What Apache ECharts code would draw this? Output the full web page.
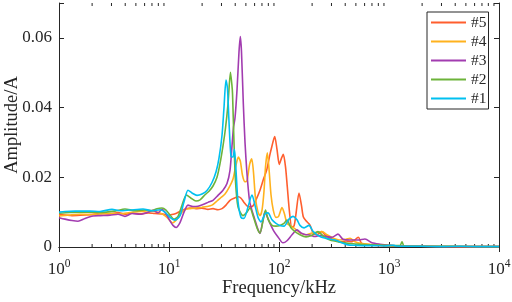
<!DOCTYPE html>
<html>
<head>
<meta charset="utf-8">
<script src="https://cdn.jsdelivr.net/npm/echarts@6/dist/echarts.min.js"></script>
<style>
html,body{margin:0;padding:0;background:#fff;}
#chart{width:512px;height:302px;}
</style>
</head>
<body>
<div id="chart"></div>
<script>
// ---------------- data (frequency in kHz, amplitude in A) ----------------
const SERIES_NAMES = ['#5', '#4', '#3', '#2', '#1'];
const SERIES_COLORS = ['#FF5E2E', '#FFB21E', '#A23CB0', '#6DB33A', '#00C0F0'];

const FREQ_5 = [1,1.134,1.313,1.552,1.913,2.359,2.908,3.438,3.981,4.61,5.449,6.443,7.46,8.637,9.792,10.65,11.7,13.13,14.27,15.52,17.6,19.95,22.62,25.12,27.89,30.32,32.97,35.85,38.98,42.7,45.14,48.06,51.18,54.49,58.03,61.78,67.17,72.3,77.2,82.0,85.9,91.4,95.89,100.6,105.4,109.4,114.6,119.0,124.6,130.5,136.9,142.7,152.0,159.9,166.2,176.0,191.3,205.0,221.5,244.5,261.9,290.8,322.9,358.5,406.5,461.0,526,565,671.7,828.3,1021,1259,1913,4421,10000];
const AMP_5 = [0.0093,0.0092,0.0090,0.0091,0.0093,0.0096,0.0095,0.0099,0.0094,0.0097,0.0095,0.0098,0.0096,0.0095,0.0091,0.0093,0.0097,0.0105,0.0110,0.0112,0.0110,0.0111,0.0108,0.0110,0.0107,0.0110,0.0120,0.0134,0.0140,0.0144,0.0140,0.0128,0.0118,0.0115,0.0118,0.0135,0.0163,0.0195,0.0220,0.0260,0.0287,0.0317,0.0280,0.0237,0.0255,0.0266,0.0230,0.0172,0.0100,0.0058,0.0060,0.0095,0.0155,0.0120,0.0087,0.0075,0.0063,0.0039,0.0035,0.0044,0.0035,0.0025,0.0020,0.0015,0.0017,0.0015,0.0028,0.0010,0.0006,0.0004,0.0003,0.0002,0.0002,0.0001,0.0001];

const FREQ_4 = [1,1.259,1.552,1.913,2.359,2.908,3.585,4.421,5.449,6.717,7.779,8.637,9.589,10.76,11.82,13.13,14.27,15.52,17.6,19.95,22.15,24.6,27.31,29.69,32.29,35.11,38.18,40.65,42.7,44.6,46.6,49.09,51.18,53.9,56.5,58.6,61.1,64.43,67.17,70.05,73.05,75.4,78.3,81.11,84.58,88.7,93.9,98.9,106.5,112.2,118.2,131.3,142.7,158.5,176.0,199.5,226.2,246.0,273.1,309.7,358.5,406.5,442.1,490.9,568.2,671.7,828.3,1021,1259,1913,4421,10000];
const AMP_4 = [0.0089,0.0092,0.0094,0.0093,0.0095,0.0097,0.0095,0.0099,0.0102,0.0104,0.0100,0.0095,0.0085,0.0069,0.0080,0.0100,0.0108,0.0110,0.0112,0.0114,0.0116,0.0120,0.0132,0.0142,0.0152,0.0170,0.0195,0.0235,0.0258,0.0245,0.0205,0.0187,0.0190,0.0235,0.0253,0.0215,0.0140,0.0100,0.0090,0.0105,0.0160,0.0230,0.0270,0.0225,0.0150,0.0106,0.0085,0.0087,0.0113,0.0095,0.0068,0.0058,0.0050,0.0039,0.0035,0.0040,0.0042,0.0044,0.0035,0.0026,0.0020,0.0022,0.0025,0.0015,0.0010,0.0008,0.0006,0.0004,0.0003,0.0002,0.0001,0.0001];

const FREQ_3 = [1,1.134,1.313,1.488,1.723,2.037,2.359,2.908,3.438,3.981,4.61,5.449,6.443,7.153,7.943,8.637,9.39,10.21,10.87,11.58,12.59,13.69,14.88,16.52,18.35,20.37,22.62,25.12,27.89,30.97,33.67,35.85,37.39,38.6,39.81,41.51,43.29,44.5,45.6,47.4,49.09,50.9,52.8,54.49,60.5,64.43,67.17,70.8,74.6,78.6,82.83,90.05,97.92,108.7,118.2,131.3,145.8,158.5,172.3,191.3,212.5,235.9,267.4,303.2,343.8,381.8,442.1,522.6,605.0,700.5,828.3,1021,1259,1913,4421,10000];
const AMP_3 = [0.0084,0.0080,0.0076,0.0074,0.0082,0.0089,0.0090,0.0091,0.0094,0.0088,0.0096,0.0094,0.0100,0.0105,0.0098,0.0108,0.0095,0.0075,0.0062,0.0056,0.0070,0.0100,0.0120,0.0116,0.0117,0.0122,0.0128,0.0134,0.0148,0.0163,0.0182,0.0220,0.0290,0.0344,0.0370,0.0450,0.0560,0.0604,0.0560,0.0410,0.0300,0.0220,0.0160,0.0125,0.0077,0.0050,0.0039,0.0070,0.0101,0.0085,0.0068,0.0045,0.0029,0.0012,0.0018,0.0035,0.0049,0.0040,0.0036,0.0034,0.0030,0.0033,0.0030,0.0028,0.0037,0.0022,0.0020,0.0020,0.0023,0.0012,0.0008,0.0005,0.0003,0.0002,0.0001,0.0001];

const FREQ_2 = [1,1.259,1.723,2.359,3.229,3.981,4.909,6.05,7.005,7.779,8.637,9.39,10.21,11.1,12.07,13.13,14.4,15.85,17.6,19.13,21.25,23.1,25.12,27.31,29.08,30.97,32.6,34.38,36.2,37.3,37.8,38.98,40.2,42.39,47.07,51.18,54.49,58.03,63.1,67.17,71.53,75.4,79.43,86.37,93.9,102.1,111.0,118.2,128.5,139.8,155.2,176.0,199.5,226.2,251.2,290.8,358.5,442.1,544.9,700.5,919.6,1134,1259,1313,1369,1913,3585,10000];
const AMP_2 = [0.0097,0.0099,0.0100,0.0099,0.0103,0.0109,0.0104,0.0106,0.0104,0.0110,0.0112,0.0106,0.0092,0.0080,0.0088,0.0120,0.0149,0.0140,0.0132,0.0135,0.0150,0.0160,0.0175,0.0200,0.0239,0.0290,0.0340,0.0410,0.0501,0.0465,0.0440,0.0300,0.0190,0.0115,0.0090,0.0100,0.0112,0.0090,0.0055,0.0040,0.0075,0.0106,0.0080,0.0062,0.0060,0.0062,0.0068,0.0077,0.0055,0.0044,0.0035,0.0029,0.0034,0.0044,0.0032,0.0020,0.0014,0.0010,0.0008,0.0006,0.0005,0.0004,0.0004,0.0015,0.0003,0.0002,0.0002,0.0001];

const FREQ_1 = [1,1.134,1.398,1.913,2.359,3.032,3.585,4.421,5.803,7.005,8.283,9.196,10.21,11.34,12.59,13.69,14.88,16.18,17.97,19.95,22.15,24.6,26.74,28.48,30.32,31.62,32.97,34.0,35.11,36.61,38.18,39.3,40.65,42.39,45.14,48.06,52.26,56.82,60.5,64.43,68.6,74.6,79.43,86.37,93.9,102.1,111.0,123.3,134.0,145.8,155.2,168.8,187.4,203.7,235.9,273.1,322.9,373.9,423.9,490.9,605.0,746.0,919.6,1087,1158,1398,1913,2908,4421,6717,10000];
const AMP_1 = [0.0100,0.0102,0.0103,0.0103,0.0102,0.0108,0.0104,0.0106,0.0109,0.0104,0.0107,0.0100,0.0085,0.0077,0.0090,0.0130,0.0163,0.0155,0.0148,0.0152,0.0162,0.0185,0.0215,0.0255,0.0320,0.0400,0.0479,0.0455,0.0360,0.0260,0.0258,0.0280,0.0220,0.0130,0.0085,0.0082,0.0115,0.0149,0.0120,0.0085,0.0072,0.0095,0.0098,0.0078,0.0068,0.0062,0.0060,0.0080,0.0088,0.0078,0.0062,0.0055,0.0062,0.0045,0.0030,0.0024,0.0020,0.0012,0.0006,0.0005,0.0004,0.0004,0.0003,0.0005,0.0003,0.0002,0.0002,0.0001,0.0002,0.0001,0.0001];

const FREQS = [FREQ_5, FREQ_4, FREQ_3, FREQ_2, FREQ_1];
const AMPS = [AMP_5, AMP_4, AMP_3, AMP_2, AMP_1];

const X_MIN = 1, X_MAX = 10000;
const Y_MIN = 0, Y_MAX = 0.07, Y_STEP = 0.02;
const X_TITLE = 'Frequency/kHz';
const Y_TITLE = 'Amplitude/A';

// minor ticks of the log axis (2..9 x 10^k)
const MINOR_TICKS = [];
for (let k = 0; k < 4; k++) for (let m = 2; m <= 9; m++) MINOR_TICKS.push([m * Math.pow(10, k)]);

// ---------------- chart ----------------
const FONT = "'Liberation Serif', 'Times New Roman', serif";
const AX = '#262626';
const chart = echarts.init(document.getElementById('chart'), null, {renderer: 'canvas'});

const lineSeries = SERIES_NAMES.map((name, i) => ({
  name: name,
  type: 'line',
  xAxisIndex: 0,
  yAxisIndex: 0,
  data: FREQS[i].map((f, j) => [f, AMPS[i][j]]),
  showSymbol: false,
  symbol: 'none',
  smooth: 0.25,
  lineStyle: {width: 1.6, color: SERIES_COLORS[i]},
  itemStyle: {color: SERIES_COLORS[i]},
  animation: false
}));

const minorTickSeries = {
  type: 'custom',
  name: 'minorTicks',
  xAxisIndex: 0,
  yAxisIndex: 0,
  silent: true,
  animation: false,
  clip: false,
  data: MINOR_TICKS,
  renderItem: function (params, api) {
    const f = api.value(0);
    const b = api.coord([f, Y_MIN]);
    const t = api.coord([f, Y_MAX]);
    return {
      type: 'group',
      children: [
        {type: 'line', shape: {x1: b[0], y1: b[1], x2: b[0], y2: b[1] - 3}, style: {stroke: AX, lineWidth: 1}},
        {type: 'line', shape: {x1: t[0], y1: t[1], x2: t[0], y2: t[1] + 3}, style: {stroke: AX, lineWidth: 1}}
      ]
    };
  }
};

const xAxisCommon = {
  type: 'log',
  logBase: 10,
  min: X_MIN,
  max: X_MAX,
  axisLine: {show: true, lineStyle: {color: AX, width: 1}},
  axisTick: {show: true, inside: true, length: 5, lineStyle: {color: AX}},
  splitLine: {show: false},
  minorTick: {show: false},
  minorSplitLine: {show: false}
};
const yAxisCommon = {
  type: 'value',
  min: Y_MIN,
  max: Y_MAX,
  interval: Y_STEP,
  axisLine: {show: true, lineStyle: {color: AX, width: 1}},
  axisTick: {show: true, inside: true, length: 5, lineStyle: {color: AX}},
  splitLine: {show: false}
};

chart.setOption({
  backgroundColor: '#ffffff',
  animation: false,
  grid: {left: 59, right: 13, top: 3, bottom: 55, containLabel: false, outerBoundsMode: 'none'},
  legend: {
    data: SERIES_NAMES,
    orient: 'vertical',
    left: 427,
    top: 12,
    icon: 'rect',
    itemWidth: 35,
    itemHeight: 2,
    itemGap: 2,
    padding: [2, 2, 2, 4],
    backgroundColor: '#ffffff',
    borderColor: AX,
    borderWidth: 1,
    borderRadius: 0,
    textStyle: {fontFamily: FONT, fontSize: 15.5, color: AX, lineHeight: 17}
  },
  graphic: [
    {
      type: 'text',
      x: 279, y: 288,
      style: {text: X_TITLE, fontFamily: FONT, fontSize: 18.5, fill: AX, textAlign: 'center', textVerticalAlign: 'middle'}
    },
    {
      type: 'text',
      x: 12, y: 125,
      rotation: Math.PI / 2,
      style: {text: Y_TITLE, fontFamily: FONT, fontSize: 18.5, fill: AX, textAlign: 'center', textVerticalAlign: 'middle'}
    }
  ],
  xAxis: [
    Object.assign({}, xAxisCommon, {
      position: 'bottom',
      axisLabel: {
        show: true,
        margin: 11,
        formatter: function (v) {
          const e = Math.round(Math.log10(v));
          return '{b|10}{s|' + e + '}';
        },
        rich: {
          b: {fontFamily: FONT, fontSize: 17, color: AX, verticalAlign: 'bottom', lineHeight: 20},
          s: {fontFamily: FONT, fontSize: 11.5, color: AX, verticalAlign: 'top', lineHeight: 11}
        }
      }
    }),
    Object.assign({}, xAxisCommon, {
      position: 'top',
      axisLabel: {show: false}
    })
  ],
  yAxis: [
    Object.assign({}, yAxisCommon, {
      position: 'left',
      axisLabel: {
        show: true,
        margin: 7,
        fontFamily: FONT,
        fontSize: 17,
        color: AX,
        formatter: function (v) {
          if (Math.abs(v - Y_MAX) < 1e-9) return '';
          if (v === 0) return '0';
          return v.toFixed(2);
        }
      }
    }),
    Object.assign({}, yAxisCommon, {
      position: 'right',
      axisLabel: {show: false}
    })
  ],
  series: lineSeries.concat([minorTickSeries])
});
</script>
</body>
</html>
